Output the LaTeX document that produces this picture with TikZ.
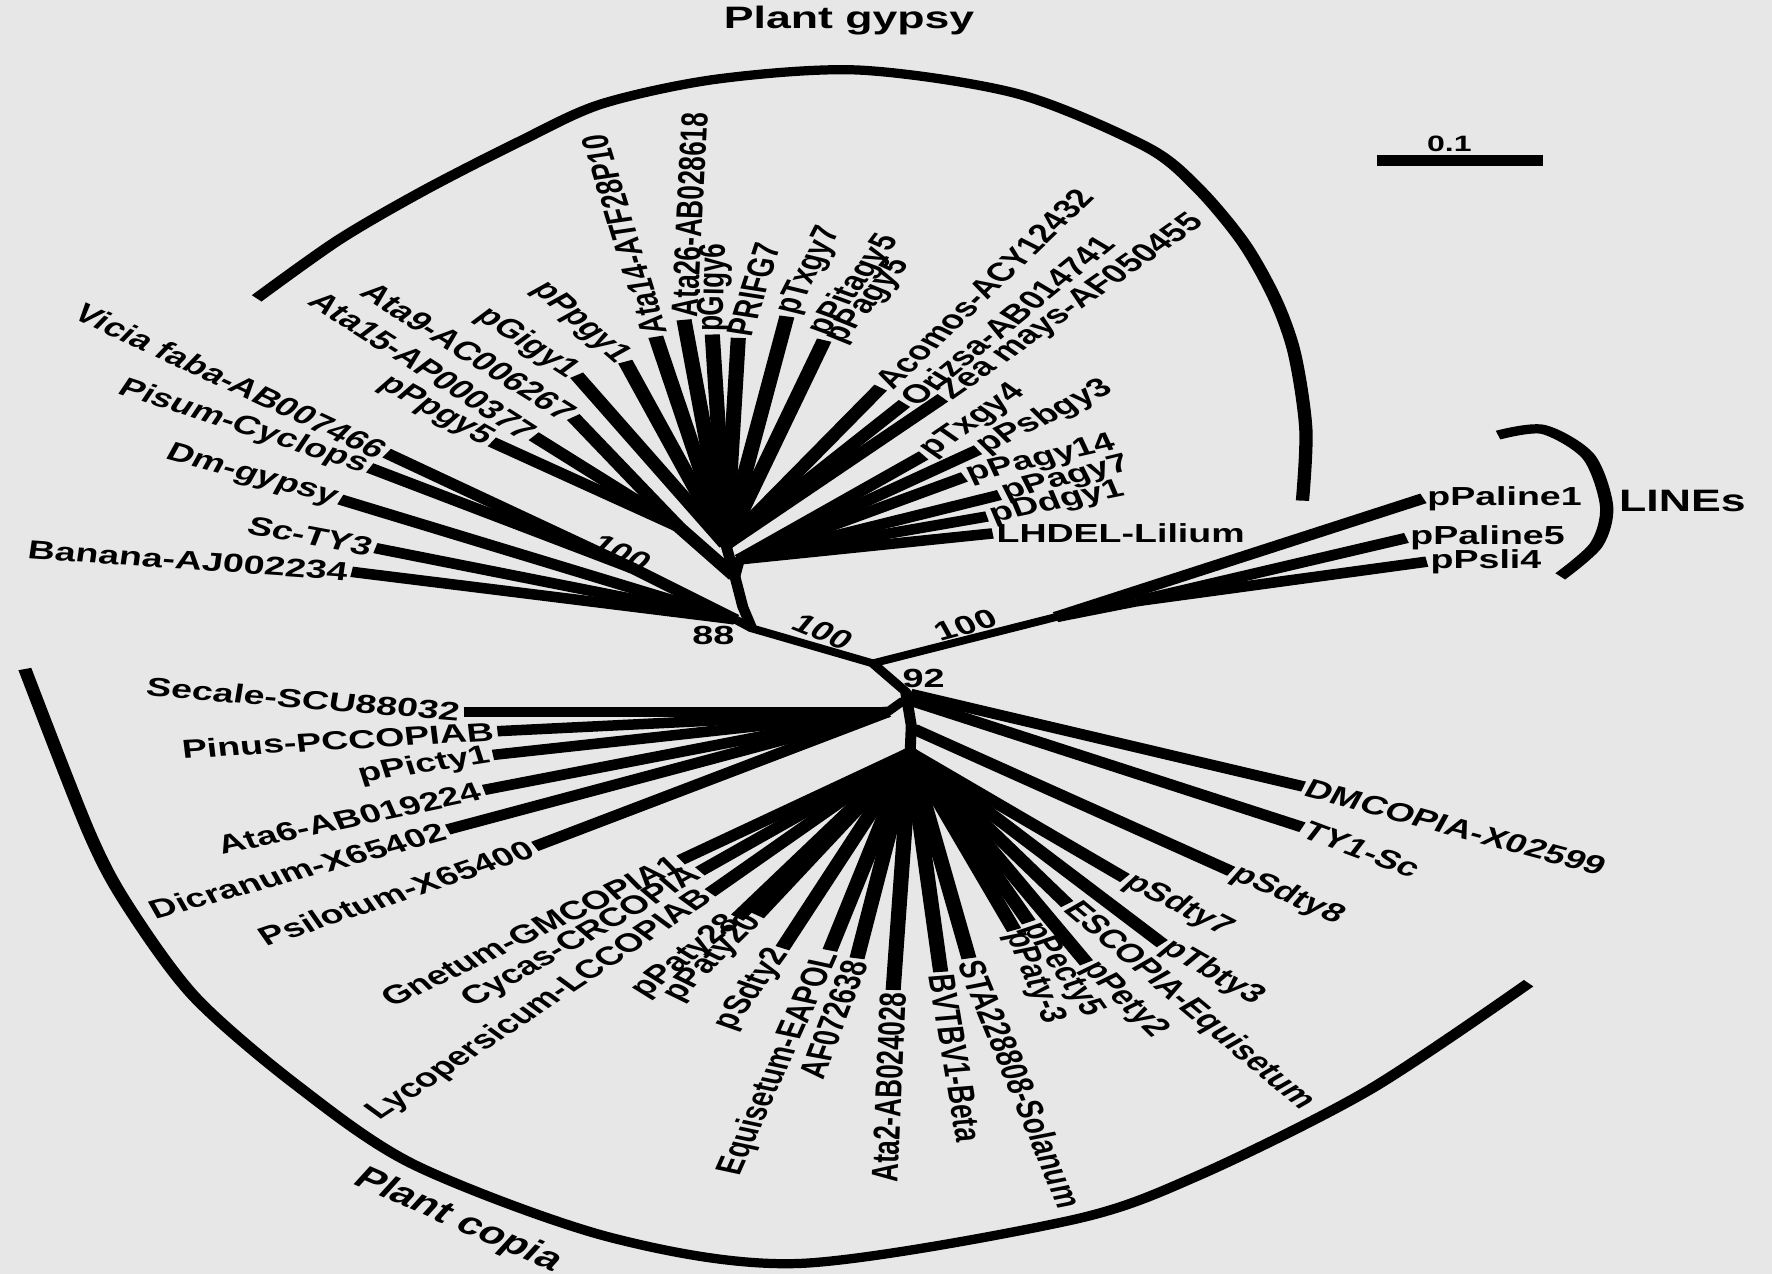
\documentclass[tikz,border=0pt]{standalone}
\usepackage{tikz}
\usepackage{fontspec}
\setmainfont{Liberation Sans}
\definecolor{paper}{RGB}{231,231,231}
% leaf tip with its label ending at the tip (E) or starting at the tip (W)
\newcommand\tipE[5]{\coordinate (#1) at (#2,#3); \node[lab=#4,anchor=east] (#1-t) at (#1) {#5};}
\newcommand\tipW[5]{\coordinate (#1) at (#2,#3); \node[lab=#4,anchor=west] (#1-t) at (#1) {#5};}
\begin{document}
\begin{tikzpicture}[x=0.025cm,y=-0.025cm]
\fill[paper] (0,0) rectangle (1568,1127);
\useasboundingbox (0,0) rectangle (1568,1127);
% the whole tree is drawn 1.44 times wider than tall
\begin{scope}[transform canvas={xscale=1.44}, x=0.0173611cm, y=-0.025cm,
  lab/.style={font=\bfseries\fontsize{16.4}{18}\selectfont, inner sep=1.5pt,
              rotate={atan2(1.44*sin(#1),cos(#1))}},
  big/.style={font=\bfseries\fontsize{19.5}{22}\selectfont, inner sep=0pt,
              rotate={atan2(1.44*sin(#1),cos(#1))}},
  boot/.style={font=\bfseries\fontsize{16.5}{18}\selectfont, inner sep=0pt,
              rotate={atan2(1.44*sin(#1),cos(#1))}},
  leaf/.style={line width=6.6pt},
  stem/.style={line width=4.8pt, line cap=round, line join=round},
  clade/.style={line width=5.8pt}]

% ---------- internal nodes ----------
\coordinate (hg)   at (642,482);
\coordinate (hgr)  at (654,495);
\coordinate (s1)   at (600,466);
\coordinate (st1)  at (650,510);
\coordinate (st2)  at (657,537);
\coordinate (n88)  at (665,556);
\coordinate (hgl)  at (650,548);
\coordinate (nvp)  at (560,503);
\coordinate (nl)   at (772,587);
\coordinate (nli)  at (934,546);
\coordinate (nli2) at (1005,532);
\coordinate (n92)  at (801,612);
\coordinate (ndm)  at (805,614);
\coordinate (nty)  at (806,620);
\coordinate (nc)   at (785,630);
\coordinate (ncj)  at (799,620);
\coordinate (ncs)  at (806,642);
\coordinate (ns8)  at (808,645);
\coordinate (nlow) at (805,666);

% ---------- gypsy leaves ----------
\tipE{vicia}{342}{401}{-25}{Vicia faba-AB007466}
\tipE{pisum}{327}{414}{-18}{Pisum-Cyclops}
\tipE{dmg}{301}{442}{-15}{Dm-gypsy}
\tipE{sct}{332}{485}{-10.6}{Sc-TY3}
\tipE{banana}{311}{506}{-4}{Banana-AJ002234}
\tipE{pppgy5}{435}{391}{-29}{pPpgy5}
\tipE{ata15}{472}{386}{-32.5}{Ata15-AP000377}
\tipE{ata9}{507}{369}{-32}{Ata9-AC006267}
\tipE{pgigy1}{510}{332}{-33}{pGigy1}
\tipE{pppgy1}{553}{320}{-41}{pPpgy1}
\tipW{ata14}{580}{298}{107}{Ata14-ATF28P10}
\tipW{ata26}{605}{283}{87}{Ata26-AB028618}
\tipW{pgigy6}{630}{296}{88}{pGigy6}
\tipW{prifg7}{653}{299}{72}{PRIFG7}
\tipW{ptxgy7}{696}{280}{63}{pTxgy7}
\coordinate (ppita) at (729,301);
\node[lab=53,anchor=west] (ppita-t) at (722,297) {pPitagy5};
\node[lab=50,anchor=west] (ppagy5-t) at (737,304) {pPagy5};
\tipW{acomos}{779}{343}{43.7}{Acomos-ACY12432}
\tipW{orizsa}{800}{357}{39}{Orizsa-AB014741}
\tipW{zea}{834}{352}{35}{Zea mays-AF050455}
\tipW{ptxgy4}{817}{403}{34.5}{pTxgy4}
\tipW{ppsbgy3}{865}{398}{26}{pPsbgy3}
\tipW{ppagy14}{853}{422}{12.7}{pPagy14}
\tipW{ppagy7}{884}{438}{13.7}{pPagy7}
\tipW{pddgy1}{873}{457}{11.5}{pDdgy1}
\tipW{lhdel}{878}{472}{0}{LHDEL-Lilium}

% ---------- LINEs ----------
\tipW{ppaline1}{1259}{441}{0}{pPaline1}
\tipW{ppaline5}{1244}{476}{0}{pPaline5}
\tipW{ppsli4}{1262}{497}{0}{pPsli4}

% ---------- copia leaves ----------
\tipE{secale}{410}{630}{-4.6}{Secale-SCU88032}
\tipE{pinus}{440}{647}{3.3}{Pinus-PCCOPIAB}
\tipE{ppicty1}{436}{668}{8.8}{pPicty1}
\tipE{ata6}{428}{699}{12}{Ata6-AB019224}
\tipE{dicranum}{396}{734}{15.3}{Dicranum-X65402}
\tipE{psilotum}{473}{749}{18.6}{Psilotum-X65400}
\tipE{gnetum}{602}{761}{25.4}{Gnetum-GMCOPIA1}
\tipE{cycas}{619}{771}{29.5}{Cycas-CRCOPIA}
\tipE{lyco}{628}{790}{33.5}{Lycopersicum-LCCOPIAB}
\tipE{ppaty28}{652}{812}{37.8}{pPaty28}
\tipE{ppaty20}{670}{810}{44.5}{pPaty20}
\tipE{psdty2}{692}{839}{54}{pSdty2}
\tipE{equi}{734}{841}{66}{Equisetum-EAPOL}
\tipE{af}{758}{848}{69}{AF072638}
\tipE{ata2}{790}{876}{87.4}{Ata2-AB024028}
\tipW{bvtbv}{832}{860}{-80.4}{BVTBV1-Beta}
\tipW{sta}{857}{848}{-67.6}{STA228808-Solanum}
\tipW{ppaty3}{897}{823}{-67}{pPaty-3}
\tipW{ppecty5}{910}{816}{-55}{pPecty5}
\tipW{ppety2}{961}{852}{-44.5}{pPety2}
\tipW{escopia}{944}{800}{-40}{ESCOPIA-Equisetum}
\tipW{ptbty3}{1028}{835}{-30}{pTbty3}
\tipW{psdty7}{995}{777}{-27}{pSdty7}
\tipW{psdty8}{1089}{771}{-23}{pSdty8}
\tipW{ty1}{1152}{732}{-20.5}{TY1-Sc}
\tipW{dmcopia}{1153}{696}{-15}{DMCOPIA-X02599}

% ---------- branches ----------
\foreach \t in {vicia,pisum} \draw[leaf] (\t) -- (nvp);
\draw[leaf] (nvp) -- (hgl);
\foreach \t in {dmg,sct,banana} \draw[leaf] (\t) -- (hgl);
\foreach \t in {pppgy5,ata15,ata9} \draw[leaf] (\t) -- (s1);
\draw[leaf] (s1) -- (st1);
\foreach \t in {pgigy1,pppgy1,ata14,ata26,pgigy6,prifg7,ptxgy7,ppita,acomos,orizsa,zea}
  \draw[leaf] (\t) -- (hg);
\foreach \t in {ptxgy4,ppsbgy3,ppagy14,ppagy7,pddgy1,lhdel} \draw[leaf] (\t) -- (hgr);
\draw[stem] (hg) -- (st1) -- (st2) -- (n88) -- (nl) -- (n92) -- (ncs) -- (nlow);
\draw[stem] (hgr) -- (st1);
\draw[stem] (hgl) -- (n88);
\draw[stem] (nl) -- (nli);
\draw[leaf] (nli) -- (ppaline1);
\draw[leaf] (nli) -- (nli2);
\foreach \t in {ppaline5,ppsli4} \draw[leaf] (\t) -- (nli2);
\draw[stem] (nc) -- (ncj);
\foreach \t in {secale,pinus,ppicty1,ata6,dicranum,psilotum} \draw[leaf] (\t) -- (nc);
\foreach \t in {gnetum,cycas,lyco,ppaty28,ppaty20,psdty2,equi,af,ata2,bvtbv,sta,ppaty3,ppecty5,ppety2,escopia,ptbty3,psdty7}
  \draw[leaf] (\t) -- (nlow);
\draw[leaf] (psdty8) -- (ns8);
\draw[leaf] (ty1) -- (nty);
\draw[leaf] (dmcopia) -- (ndm);

% ---------- bootstrap values ----------
\node[boot=-24] (b1) at (550,489) {100};
\node[boot=0] (b2) at (631,562) {88};
\node[boot=-22] (b3) at (728,559) {100};
\node[boot=15] (b4) at (854,553) {100};
\node[boot=0] (b5) at (817,600) {92};

% ---------- clade brackets ----------
\draw[clade] plot[smooth] coordinates {(227,264) (300,212) (376,168) (460,125) (532,92) (634,70) (760,62) (900,83) (1014,130) (1060,167) (1100,215) (1128,265) (1145,313) (1155,380) (1152,443)};
\node[big=0] (gy) at (751,18) {Plant gypsy};
\draw[clade] plot[smooth] coordinates {(22,592) (78,735) (112,800) (172,882) (262,960) (367,1031) (540,1095) (707,1118) (946,1080) (1058,1041) (1210,965) (1352,870)};
\node[big=-23.7] (co) at (405,1080) {Plant copia};
\draw[clade] plot[smooth] coordinates {(1325,385) (1365,380) (1405,404) (1421,448) (1412,482) (1380,510)};
\node[big=0] (li) at (1488,443) {LINEs};

% ---------- scale bar ----------
\coordinate (sb1) at (1218,142);
\coordinate (sb2) at (1365,142);
\draw[leaf] (sb1) -- (sb2);
\node[font=\bfseries\fontsize{14}{16}\selectfont, inner sep=0pt] (sbl) at (1282,127) {0.1};
\end{scope}
\end{tikzpicture}
\end{document}
